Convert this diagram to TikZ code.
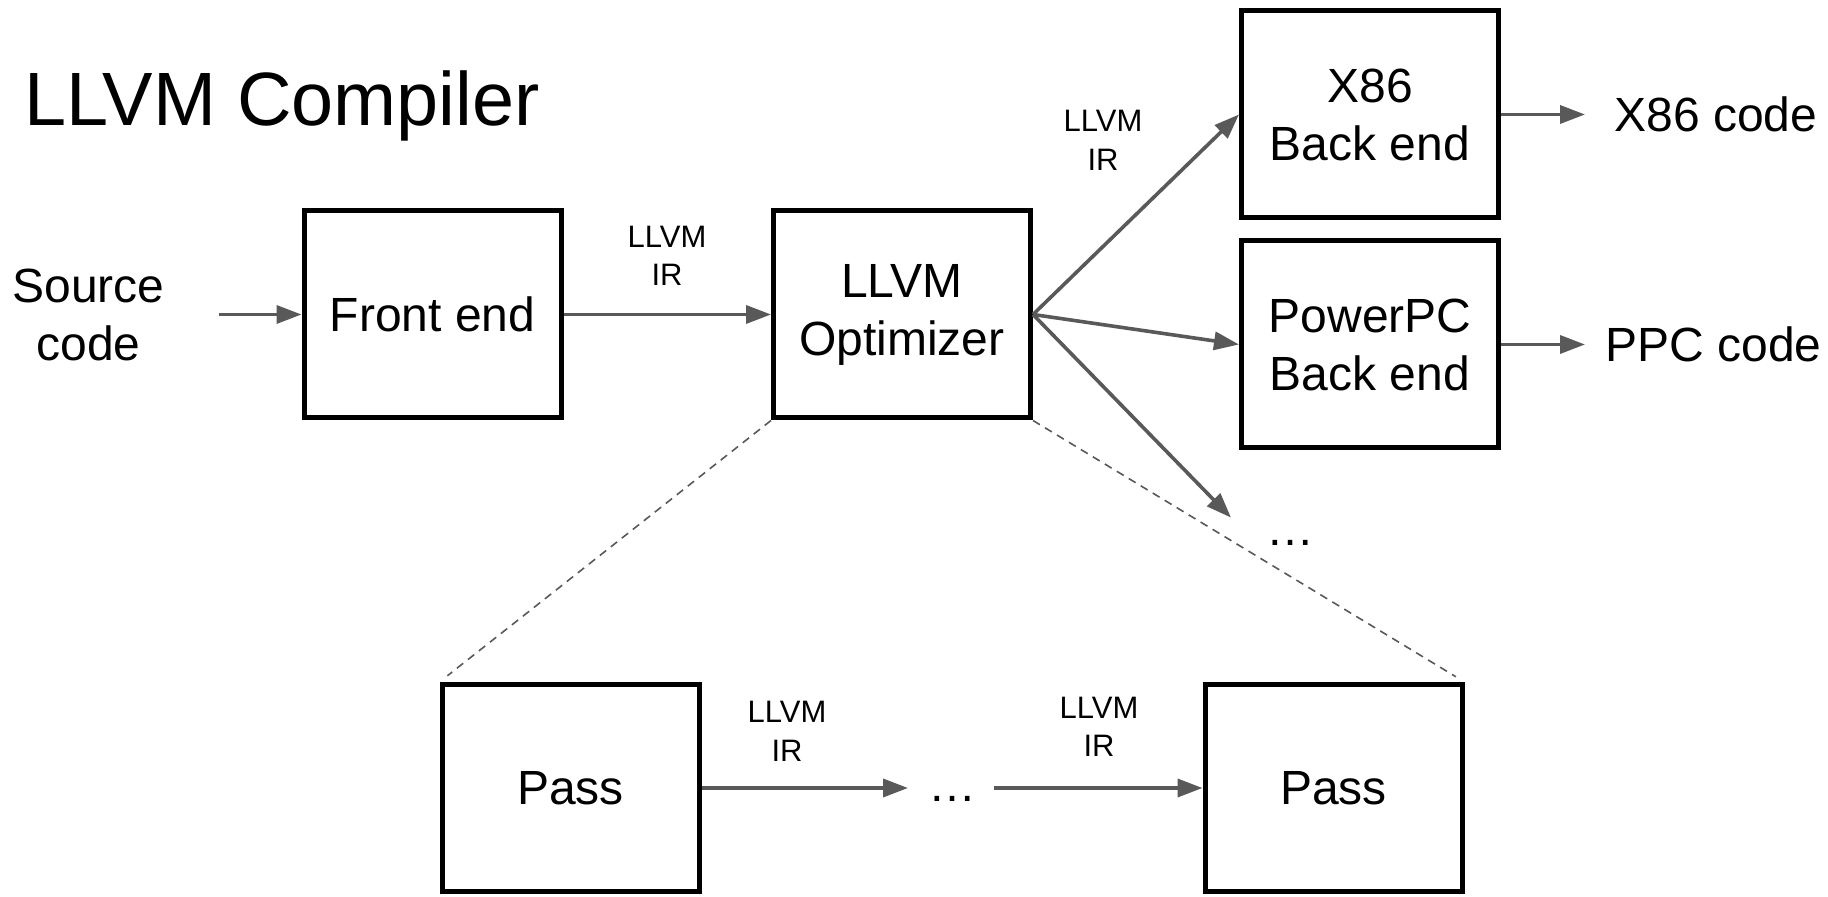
\documentclass[tikz,border=0pt]{standalone}
\usepackage{fontspec}
\setmainfont{Liberation Sans}
\usetikzlibrary{arrows.meta}
\definecolor{arrowgray}{HTML}{595959}
\begin{document}
\begin{tikzpicture}[x=0.5pt,y=-0.5pt,
  box/.style={draw=black, line width=2.5pt, minimum width=128.5pt, minimum height=103.5pt, inner sep=0pt, align=center, font=\fontsize{24}{29}\selectfont},
  bigtext/.style={align=center, inner sep=0pt, font=\fontsize{24}{29}\selectfont},
  irlabel/.style={align=center, inner sep=0pt, font=\fontsize{15.5}{19.2}\selectfont},
  flow/.style={draw=arrowgray, line width=1.8pt, -{Triangle[length=12.5pt,width=9pt]}},
  zoomline/.style={draw=arrowgray, line width=0.8pt, dash pattern=on 4pt off 3pt, shorten >=5pt}
]
\useasboundingbox (0,0) rectangle (1828,897);

\node[anchor=base west, inner sep=0pt, font=\fontsize{37.8}{40}\selectfont] (title) at (24,126) {LLVM Compiler};

\node[bigtext] (src) at (88.6,315) {Source\\code};
\node[box] (fe) at (432.5,314.5) {Front end};
\node[box] (opt) at (902,314.5) {LLVM\\Optimizer};
\node[box] (x86) at (1370,114.5) {X86\\Back end};
\node[box] (ppc) at (1370,344.5) {PowerPC\\Back end};
\node[box] (p1) at (570.5,788) {Pass};
\node[box] (p2) at (1333.5,788) {Pass};
\node[bigtext, anchor=west] (x86code) at (1614,114.5) {X86 code};
\node[bigtext, anchor=west] (ppccode) at (1605,344.5) {PPC code};

\node[bigtext] (dotsA) at (1290.5,543) {…};
\node[bigtext] (dotsB) at (952,799) {…};

\node[irlabel] (irA) at (667,256) {LLVM\\IR};
\node[irlabel] (irB) at (1103,140.5) {LLVM\\IR};
\node[irlabel] (irC) at (787,731.5) {LLVM\\IR};
\node[irlabel] (irD) at (1099,727) {LLVM\\IR};

\coordinate (srcstart) at (219,314.5);
\coordinate (dotsAtip) at (1231,517.6);
\coordinate (dotsBin) at (908,788);
\coordinate (dotsBout) at (994,788);

\draw[flow] (srcstart) -- (fe.west);
\draw[flow] (fe.east) -- (opt.west);
\draw[flow] (opt.east) -- (x86.west);
\draw[flow] (opt.east) -- (ppc.west);
\draw[flow] (opt.east) -- (dotsAtip);
\draw[flow] (x86.east) -- ([xshift=-14.5pt]x86code.west);
\draw[flow] (ppc.east) -- ([xshift=-10pt]ppccode.west);
\draw[flow] (p1.east) -- (dotsBin);
\draw[flow] (dotsBout) -- (p2.west);

\draw[zoomline] (opt.south west) -- (p1.north west);
\draw[zoomline] (opt.south east) -- (p2.north east);
\end{tikzpicture}
\end{document}
